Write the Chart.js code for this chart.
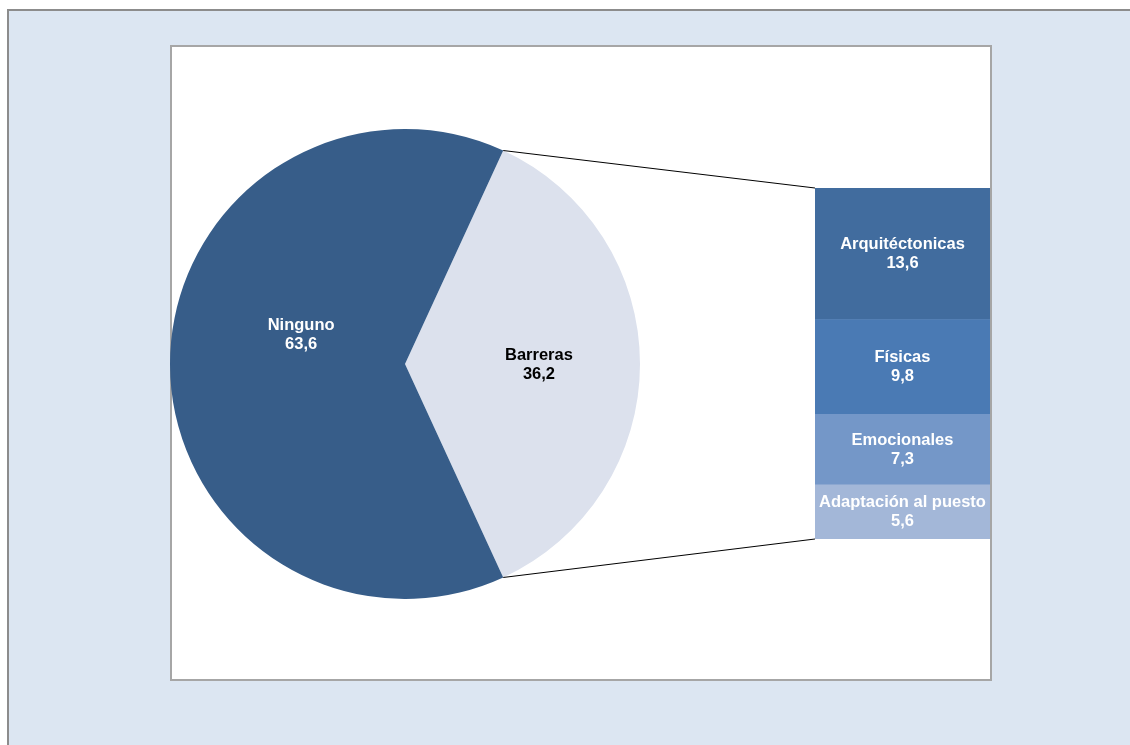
<!DOCTYPE html>
<html>
<head>
<meta charset="utf-8">
<script src="https://cdn.jsdelivr.net/npm/chart.js@4/dist/chart.umd.min.js"></script>
<style>
    html, body { margin: 0; padding: 0; background: #fff; overflow: hidden; width: 1130px; height: 745px; }
    #frame {
        position: absolute; left: 7px; top: 9px; width: 1200px; height: 800px;
        background: #dce6f2; border-top: 2px solid #8c8c8c; border-left: 2px solid #8c8c8c;
    }
    #plot {
        position: absolute; left: 170px; top: 45px; width: 818px; height: 632px;
        background: #fff; border: 2px solid #a6a6a6;
    }
    #pieWrap { position: absolute; left: -2px; top: 82px; width: 470px; height: 470px; }
    #barWrap { position: absolute; left: 0px; top: 0px; width: 818px; height: 632px; }
</style>
</head>
<body>
<div id="frame"></div>
<div id="plot">
    <div id="pieWrap"><canvas id="pieChart"></canvas></div>
    <div id="barWrap"><canvas id="barChart"></canvas></div>
</div>
<script>
// === DATA ===
const pieLabels = ['Barreras', 'Ninguno'];
const pieValues = [36.2, 63.6];
const pieColors = ['#dce1ed', '#375d89'];
const pieTextColors = ['#000000', '#ffffff'];

// stacked from bottom to top
const barLabels = ['Adaptación al puesto', 'Emocionales', 'Físicas', 'Arquitéctonicas'];
const barValues = [5.6, 7.3, 9.8, 13.6];
const barColors = ['#a3b7d8', '#7497c8', '#4a7ab4', '#416c9e'];

const fmt = v => v.toFixed(1).replace('.', ',');
const FONT = 'bold 16.5px "Liberation Sans", Arial, sans-serif';

const pieTotal = pieValues.reduce((a, b) => a + b, 0);
const barTotal = barValues.reduce((a, b) => a + b, 0);

// === PIE CHART ===
const pieLabelPlugin = {
    id: 'pieLabels',
    afterDatasetsDraw(chart) {
        const ctx = chart.ctx;
        const meta = chart.getDatasetMeta(0);
        const spots = [{ f: 0.57, off: 0 }, { f: 0.46, off: 0.28 }];
        ctx.save();
        ctx.font = FONT;
        ctx.textAlign = 'center';
        ctx.textBaseline = 'middle';
        meta.data.forEach((arc, i) => {
            const mid = (arc.startAngle + arc.endAngle) / 2 + spots[i].off;
            const r = arc.outerRadius * spots[i].f;
            const x = arc.x + Math.cos(mid) * r;
            const y = arc.y + Math.sin(mid) * r;
            ctx.fillStyle = pieTextColors[i];
            ctx.fillText(pieLabels[i], x, y - 9);
            ctx.fillText(fmt(pieValues[i]), x, y + 10);
        });
        ctx.restore();
    }
};

const pieChart = new Chart(document.getElementById('pieChart'), {
    type: 'pie',
    data: {
        labels: pieLabels,
        datasets: [{ data: pieValues, backgroundColor: pieColors, borderWidth: 0 }]
    },
    options: {
        responsive: true,
        maintainAspectRatio: false,
        animation: false,
        rotation: 90 - (pieValues[0] / pieTotal) * 180,
        plugins: { legend: { display: false }, tooltip: { enabled: false } }
    },
    plugins: [pieLabelPlugin]
});

// === STACKED BAR + connector lines ===
const barExtras = {
    id: 'barExtras',
    afterDatasetsDraw(chart) {
        const ctx = chart.ctx;
        ctx.save();
        ctx.font = FONT;
        ctx.textAlign = 'center';
        ctx.textBaseline = 'middle';
        ctx.fillStyle = '#ffffff';
        chart.data.datasets.forEach((ds, i) => {
            const bar = chart.getDatasetMeta(i).data[0];
            const cy = (bar.y + bar.base) / 2;
            const cx = bar.x;
            ctx.fillText(ds.label, cx, cy - 9);
            ctx.fillText(fmt(ds.data[0]), cx, cy + 10);
        });

        // lines from pie slice edges to bar corners
        const arc = pieChart.getDatasetMeta(0).data[0];
        const pieCanvas = pieChart.canvas;
        const ox = pieCanvas.parentNode.offsetLeft;
        const oy = pieCanvas.parentNode.offsetTop;
        const topBar = chart.getDatasetMeta(chart.data.datasets.length - 1).data[0];
        const botBar = chart.getDatasetMeta(0).data[0];
        const left = topBar.x - topBar.width / 2;
        const p1 = [ox + arc.x + Math.cos(arc.startAngle) * arc.outerRadius, oy + arc.y + Math.sin(arc.startAngle) * arc.outerRadius];
        const p2 = [ox + arc.x + Math.cos(arc.endAngle) * arc.outerRadius, oy + arc.y + Math.sin(arc.endAngle) * arc.outerRadius];
        ctx.strokeStyle = '#000000';
        ctx.lineWidth = 1;
        ctx.beginPath();
        ctx.moveTo(p1[0], p1[1]);
        ctx.lineTo(left, topBar.y);
        ctx.moveTo(p2[0], p2[1]);
        ctx.lineTo(left, botBar.base);
        ctx.stroke();
        ctx.restore();
    }
};

new Chart(document.getElementById('barChart'), {
    type: 'bar',
    data: {
        labels: ['Barreras'],
        datasets: barLabels.map((l, i) => ({
            label: l,
            data: [barValues[i]],
            backgroundColor: barColors[i],
            borderWidth: 0,
            barPercentage: 1,
            categoryPercentage: 1
        }))
    },
    options: {
        responsive: true,
        maintainAspectRatio: false,
        animation: false,
        layout: { padding: { left: 643, right: 0, top: 141, bottom: 140 } },
        scales: {
            x: { stacked: true, display: false },
            y: { stacked: true, display: false, min: 0, max: barTotal }
        },
        plugins: { legend: { display: false }, tooltip: { enabled: false } }
    },
    plugins: [barExtras]
});
</script>
</body>
</html>
